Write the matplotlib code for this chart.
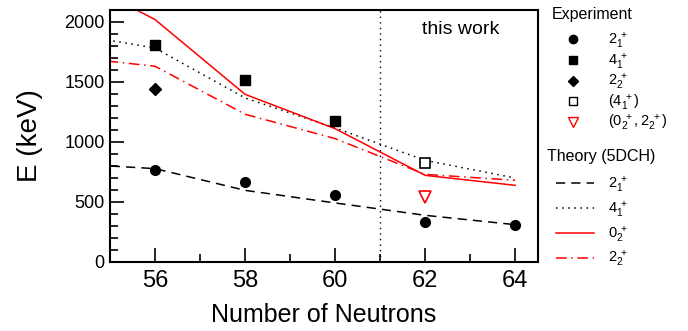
import matplotlib
matplotlib.use("Agg")
import matplotlib.pyplot as plt
from matplotlib.lines import Line2D
from matplotlib.ticker import MultipleLocator

plt.rcParams['font.family'] = ['Liberation Sans', 'DejaVu Sans']
plt.rcParams['mathtext.fontset'] = 'custom'
plt.rcParams['mathtext.rm'] = 'Liberation Sans'
plt.rcParams['mathtext.it'] = 'Liberation Sans'

# Experimental data
n_21 = [56, 58, 60, 62, 64]
e_21 = [770, 667, 556, 333, 311]
n_41 = [56, 58, 60]
e_41 = [1806, 1520, 1175]
n_22 = [56]
e_22 = [1445]
n_41t = [62]
e_41t = [828]
n_02t = [62]
e_02t = [540]

# Theory (5DCH)
n_th = [54, 56, 58, 60, 62, 64]
th_21 = [822, 778, 597, 492, 389, 311]
th_41 = [1911, 1783, 1367, 1117, 847, 700]
th_02 = [2410, 2020, 1397, 1111, 722, 639]
th_22 = [1713, 1631, 1231, 1028, 730, 681]

fig = plt.figure(figsize=(6.88, 3.31), dpi=100)
ax = fig.add_axes([0.160, 0.2085, 0.6215, 0.7613])

ls_dash = (0, (6, 4))
ls_dot = (0, (1, 3))
ls_dashdot = (0, (7, 3, 1, 3))

ax.plot(n_th, th_21, color='black', lw=1.1, ls=ls_dash)
ax.plot(n_th, th_41, color='black', lw=1.1, ls=ls_dot)
ax.plot(n_th, th_02, color='red', lw=1.1, ls='-')
ax.plot(n_th, th_22, color='red', lw=1.1, ls=ls_dashdot)

ax.plot(n_21, e_21, 'o', color='black', ms=7, ls='none')
ax.plot(n_41, e_41, 's', color='black', ms=7, ls='none')
ax.plot(n_22, e_22, 'D', color='black', ms=6, ls='none')
ax.plot(n_41t, e_41t, 's', mfc='white', mec='black', mew=1.2, ms=7, ls='none')
ax.plot(n_02t, e_02t, 'v', mfc='white', mec='red', mew=1.2, ms=8, ls='none')

ax.axvline(61, color='black', lw=1.0, ls=ls_dot)

ax.set_xlim(55, 64.5)
ax.set_ylim(0, 2100)
ax.xaxis.set_major_locator(MultipleLocator(2))
ax.xaxis.set_minor_locator(MultipleLocator(1))
ax.yaxis.set_major_locator(MultipleLocator(500))
ax.yaxis.set_minor_locator(MultipleLocator(100))
ax.tick_params(which='both', direction='in', top=False, right=False, width=1.2)
ax.tick_params(which='major', length=10)
ax.tick_params(which='minor', length=6)
ax.tick_params(axis='x', labelsize=17, pad=6)
ax.tick_params(axis='y', labelsize=13, pad=4)
for sp in ax.spines.values():
    sp.set_linewidth(1.5)

ax.set_xlabel('Number of Neutrons', fontsize=18, labelpad=8)
ax.set_ylabel('E (keV)', fontsize=20, labelpad=15)

ax.text(62.78, 1940, 'this work', fontsize=14, ha='center', va='center')

# Legends outside
fig.text(552 / 688, 1 - 14 / 331, 'Experiment', fontsize=11.5, ha='left', va='center')
exp_handles = [
    Line2D([], [], marker='o', color='black', ms=6, ls='none'),
    Line2D([], [], marker='s', color='black', ms=6, ls='none'),
    Line2D([], [], marker='D', color='black', ms=5, ls='none'),
    Line2D([], [], marker='s', mfc='white', mec='black', ms=6, ls='none'),
    Line2D([], [], marker='v', mfc='white', mec='red', ms=7, ls='none'),
]
exp_labels = [r'$2_1^{\ +}$', r'$4_1^{\ +}$', r'$2_2^{\ +}$', r'$(4_1^{\ +})$', r'$(0_2^{\ +},2_2^{\ +})$']
fig.legend(exp_handles, exp_labels, loc='upper left',
           bbox_to_anchor=(555 / 688, 1 - 31 / 331), frameon=False, fontsize=10.5,
           labelspacing=0.04, handlelength=2.4,
           handletextpad=1.2, borderaxespad=0, borderpad=0)

fig.text(547 / 688, 1 - 157 / 331, 'Theory (5DCH)', fontsize=11.5, ha='left', va='center')
th_handles = [
    Line2D([], [], color='black', lw=1.1, ls=ls_dash),
    Line2D([], [], color='black', lw=1.1, ls=ls_dot),
    Line2D([], [], color='red', lw=1.1, ls='-'),
    Line2D([], [], color='red', lw=1.1, ls=ls_dashdot),
]
th_labels = [r'$2_1^{\ +}$', r'$4_1^{\ +}$', r'$0_2^{\ +}$', r'$2_2^{\ +}$']
fig.legend(th_handles, th_labels, loc='upper left',
           bbox_to_anchor=(556 / 688, 1 - 175 / 331), frameon=False, fontsize=10.5,
           labelspacing=0.33, handlelength=2.6,
           handletextpad=1.0, borderaxespad=0, borderpad=0)

fig.savefig('out.png', dpi=100)
